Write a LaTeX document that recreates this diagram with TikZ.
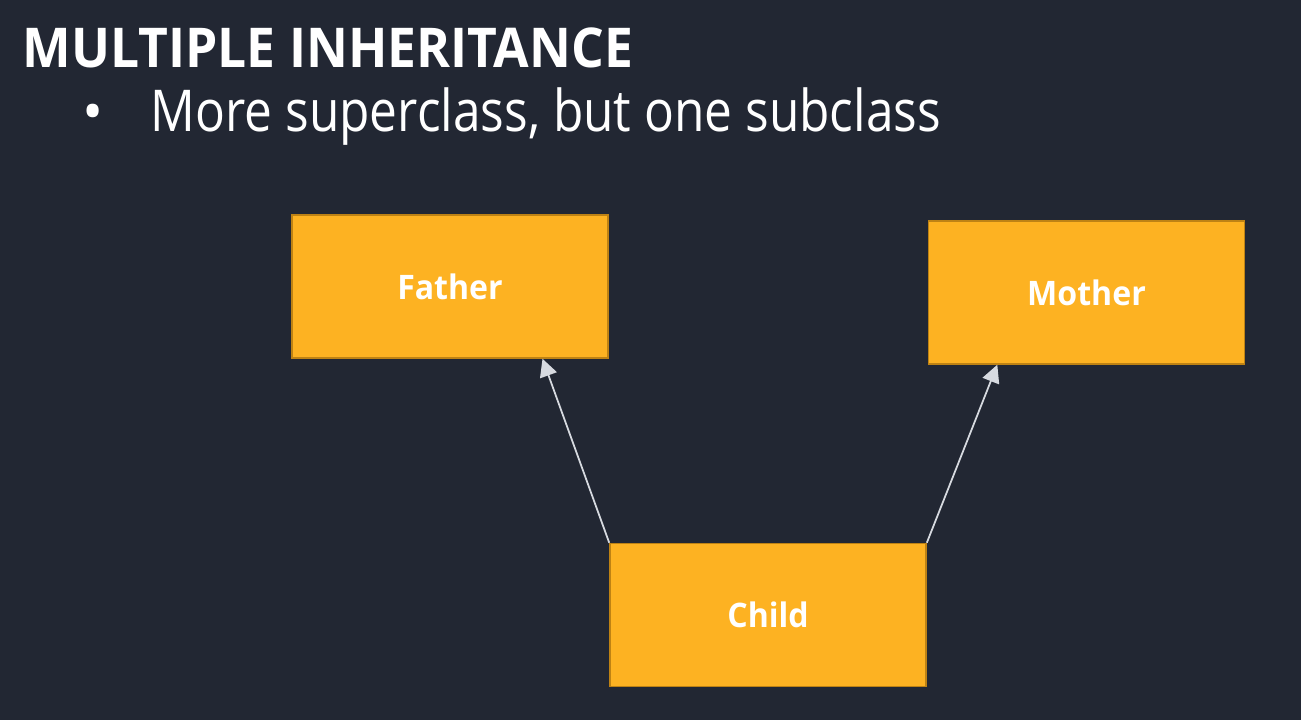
\documentclass[tikz,border=0pt]{standalone}
\usepackage{fontspec}
\setmainfont{Open Sans}
\newfontfamily\headfont[FakeStretch=0.94]{Open Sans}
\newfontfamily\pointfont[FakeStretch=0.86]{Open Sans}
\newfontfamily\labelfont[FakeStretch=0.95]{Open Sans}
\usetikzlibrary{arrows.meta}
\definecolor{slidebg}{RGB}{34, 39, 51}
\definecolor{boxorange}{RGB}{253, 178, 34}
\definecolor{boxedge}{RGB}{190, 130, 20}
\definecolor{linkgrey}{RGB}{215, 218, 224}
\tikzstyle{classbox} = [
  rectangle,
  fill=boxorange,
  draw=boxedge,
  line width=0.4pt,
  inner sep=0pt,
  minimum width=3.16cm,
  minimum height=1.43cm,
  text=white,
  font=\labelfont\fontsize{9.6pt}{11pt}\selectfont\bfseries,
]
\tikzstyle{inherits} = [
  draw=linkgrey,
  line width=0.5pt,
  -{Triangle[width=5pt,length=5pt]},
]

\begin{document}
\begin{tikzpicture}[x=0.01cm, y=0.01cm]
            % Background
            \fill[slidebg] (0,0) rectangle (1301,720);
            \useasboundingbox (0,0) rectangle (1301,720);

            % Heading
            \node[anchor=base west, inner sep=0pt, text=white,
              font=\headfont\fontsize{15.6pt}{18pt}\selectfont\bfseries] (title)
              at (22,653) {MULTIPLE INHERITANCE};
            \node[anchor=base, inner sep=0pt, text=white,
              font=\fontsize{16pt}{18pt}\selectfont] (bullet)
              at (93,589) {•};
            \node[anchor=base west, inner sep=0pt, text=white,
              font=\pointfont\fontsize{16.4pt}{19pt}\selectfont] (point)
              at (150,589) {More superclass, but one subclass};

            % Classes
            \node[classbox] (father) at (450,433.5) {Father};
            \node[classbox] (mother) at (1086.5,427.5) {Mother};
            \node[classbox] (child) at (768,105) {Child};

            % Links
            \draw[inherits] (child.north west) -- (father.-38.6);
            \draw[inherits] (child.north east) -- (mother.-141);
          \end{tikzpicture}
\end{document}
